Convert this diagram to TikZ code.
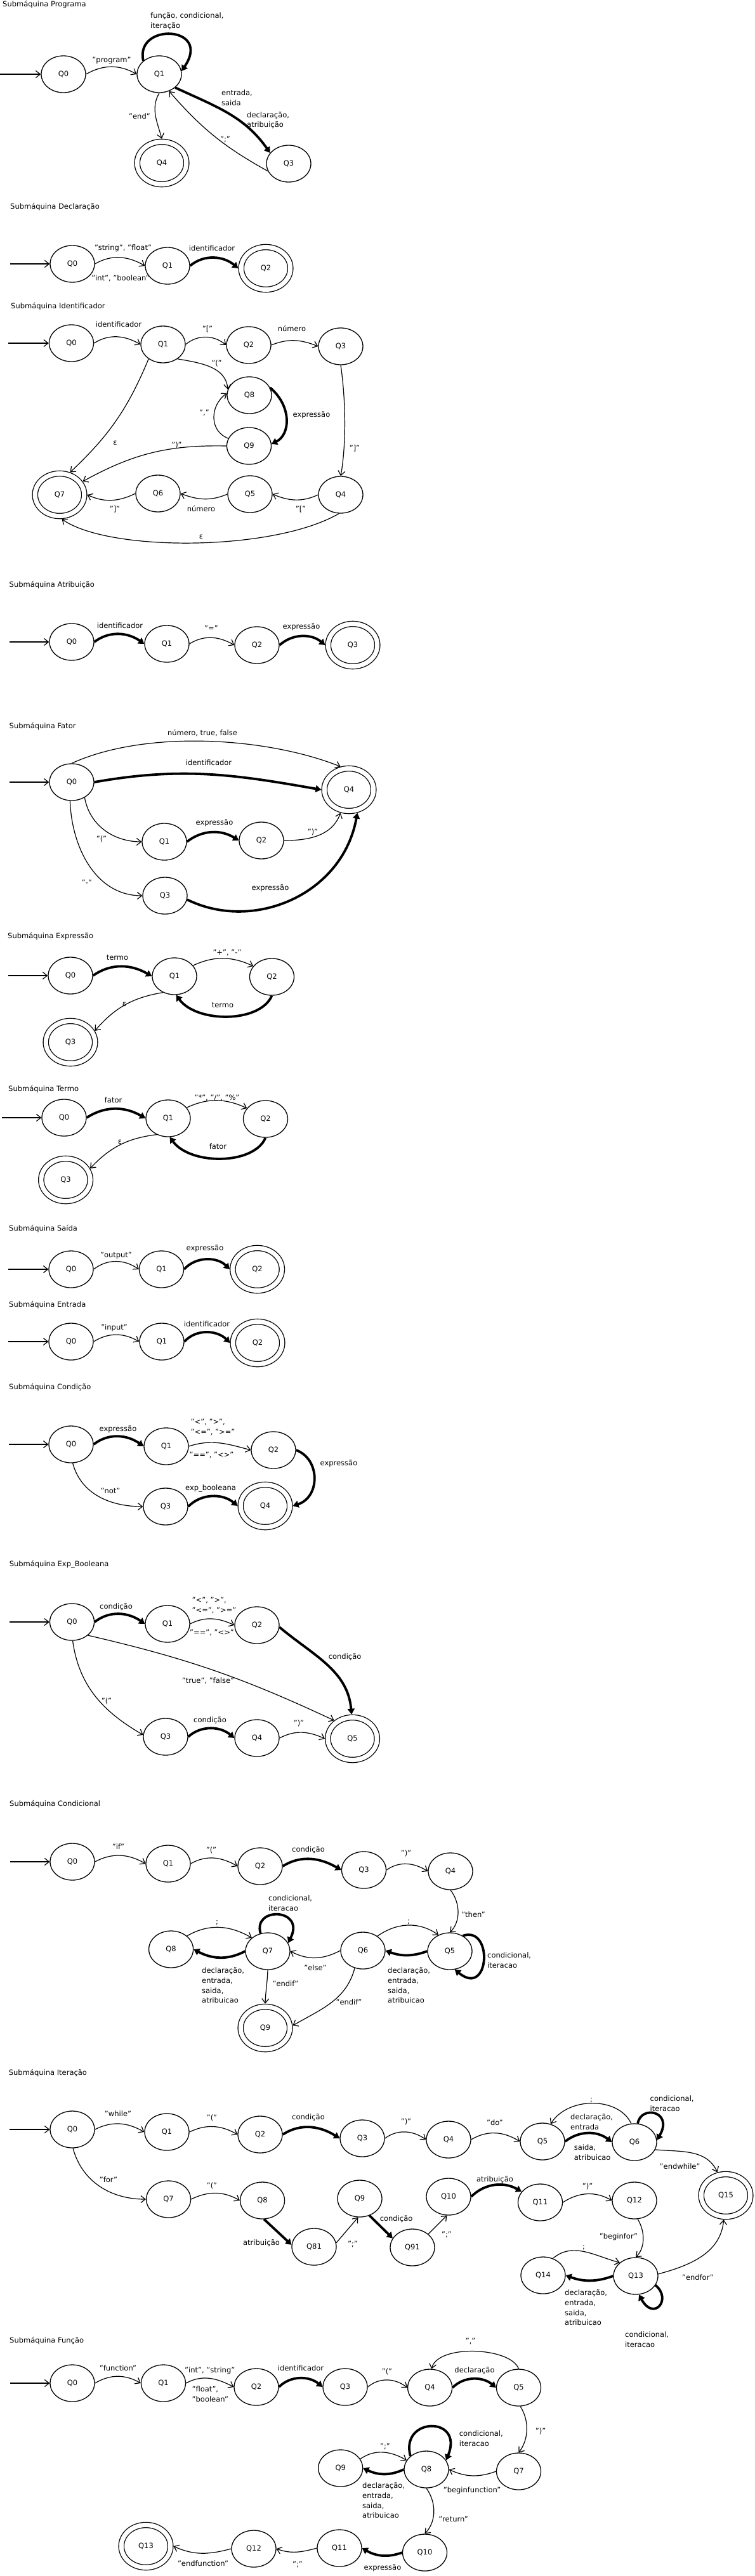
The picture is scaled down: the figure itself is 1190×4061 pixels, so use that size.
\documentclass[tikz,border=0pt]{standalone}
\usepackage{fontspec}
\setmainfont{DejaVu Sans}
\usetikzlibrary{arrows.meta,shapes.geometric}
\newcommand\myfs{\fontsize{11.5}{15.7}\selectfont}
\begin{document}
\begin{tikzpicture}[x=1pt,y=1pt,font=\myfs,
 st/.style={draw, ellipse, line width=1.3pt, minimum width=70pt, minimum height=58pt, inner sep=0pt},
 acc/.style={draw, ellipse, double, double distance=7pt, line width=1.3pt, minimum width=77.5pt, minimum height=67pt, inner sep=0pt, outer sep=4.8pt},
 tr/.style={line width=1.2pt, -{Straight Barb[length=7pt,width=11pt]}},
 tk/.style={line width=3.8pt, -{Triangle[length=9pt,width=11pt]}},
 lb/.style={inner sep=0pt, text height=8.5pt, text depth=2.5pt},
 ml/.style={inner sep=0pt, align=left, anchor=west},
 ttl/.style={inner sep=0pt, anchor=west, text height=8.5pt, text depth=2.5pt}]
\path[use as bounding box, fill=white] (0,0) rectangle (1190,-4061);

% ---------------- Programa
\node[ttl] (t1) at (4,-7) {Submáquina Programa};
\node[st] (p0) at (100,-117) {Q0};
\node[st] (p1) at (251,-117) {Q1};
\node[acc] (p4) at (255,-257) {Q4};
\node[st] (p3) at (455,-258) {Q3};
\coordinate (pin0) at (0,-117);
\draw[tr] (pin0) -- (p0);
\draw[tr] (p0.east) to[out=30,in=150] (p1.west);
\node[lb] (pl1) at (176,-95) {"program"};
\draw[tk] (p1.140) .. controls (212,-35) and (335,-40) .. (p1.8);
\node[ml] (pl2) at (237,-33) {função, condicional,\\iteração};
\draw[tr] (p1.south) to[out=240,in=105] (p4.north);
\node[lb] (pl3) at (220,-184) {"end"};
\draw[tk] (p1.-40) to[out=-25,in=125] (p3.150);
\node[ml] (pl4) at (349,-154.5) {entrada,\\saida};
\node[ml] (pl5) at (389,-189.5) {declaração,\\atribuição};
\draw[tr] (p3.200) to[bend left=10] (p1.-60);
\node[lb] (pl6) at (355,-220) {";"};

% ---------------- Declaracao
\node[ttl] (t2) at (16,-326) {Submáquina Declaração};
\node[st] (d0) at (114,-416) {Q0};
\node[st] (d1) at (264,-419) {Q1};
\node[acc] (d2) at (419,-423) {Q2};
\coordinate (din0) at (16,-416);
\draw[tr] (din0) -- (d0);
\draw[tr] (d0.east) to[out=30,in=150] (d1.west);
\node[lb] (dl1) at (194,-391) {"string", "float"};
\node[lb] (dl2) at (190,-439) {"int", "boolean"};
\draw[tk] (d1.east) to[out=40,in=140] (d2.west);
\node[lb] (dl3) at (334,-392) {identificador};

% ---------------- Identificador
\node[ttl] (t3) at (17,-483) {Submáquina Identificador};
\node[st] (i0) at (112.5,-541) {Q0};
\node[st] (i1) at (257,-543) {Q1};
\node[st] (i2) at (392,-544) {Q2};
\node[st] (i3) at (537,-546) {Q3};
\node[st] (i8) at (393,-623) {Q8};
\node[st] (i9) at (392.5,-703) {Q9};
\node[acc] (i7) at (94,-780) {Q7};
\node[st] (i6) at (249,-778) {Q6};
\node[st] (i5) at (394,-779) {Q5};
\node[st] (i4) at (537,-780) {Q4};
\coordinate (iin0) at (13,-541);
\draw[tr] (iin0) -- (i0);
\draw[tr] (i0.east) to[out=32,in=150] (i1.west);
\node[lb] (il1) at (187,-512) {identificador};
\draw[tr] (i1.east) to[out=40,in=140] (i2.west);
\node[lb] (il2) at (327,-519) {"["};
\draw[tr] (i2.east) to[out=22,in=158] (i3.west);
\node[lb] (il3) at (460,-519) {número};
\draw[tr] (i1.-45) to[out=-10,in=95] (i8.165);
\node[lb] (il4) at (341.5,-573) {"("};
\draw[tk] (i8.20) .. controls (460,-640) and (458,-685) .. (i9.5);
\node[lb] (il5) at (491,-654) {expressão};
\draw[tr] (i9.160) .. controls (330,-680) and (330,-640) .. (i8.175);
\node[lb] (il6) at (322,-651) {","};
\draw[tr] (i1.225) to[bend left=12] (i7.65);
\node[lb] (il7) at (181.5,-698) {ε};
\draw[tr] (i9.west) to[bend right=15] (i7.30);
\node[lb] (il8) at (278.5,-702) {")"};
\draw[tr] (i3.south) .. controls (545,-630) and (546,-700) .. (i4.north);
\node[lb] (il9) at (559,-707) {"]"};
\draw[tr] (i4.west) to[out=205,in=-23] (i5.east);
\node[lb] (il10) at (474,-803) {"["};
\draw[tr] (i5.west) to[out=203,in=-21] (i6.east);
\node[lb] (il11) at (317,-803) {número};
\draw[tr] (i6.west) to[out=206,in=-25] (i7.east);
\node[lb] (il12) at (181,-803) {"]"};
\draw[tr] (i4.265) .. controls (430,-870) and (170,-870) .. (i7.-85);
\node[lb] (il13) at (317,-846) {ε};

% ---------------- Atribuicao
\node[ttl] (t4) at (14.5,-922) {Submáquina Atribuição};
\node[st] (a0) at (113,-1012) {Q0};
\node[st] (a1) at (263,-1015) {Q1};
\node[st] (a2) at (405,-1017) {Q2};
\node[acc] (a3) at (556,-1017) {Q3};
\coordinate (ain0) at (14.5,-1012);
\draw[tr] (ain0) -- (a0);
\draw[tk] (a0.east) to[out=37,in=145] (a1.west);
\node[lb] (al1) at (189,-987) {identificador};
\draw[tr] (a1.east) to[out=32,in=150] (a2.west);
\node[lb] (al2) at (333,-991) {"="};
\draw[tk] (a2.east) to[out=42,in=140] (a3.west);
\node[lb] (al3) at (475,-988) {expressão};

% ---------------- Fator
\node[ttl] (t5) at (14.5,-1145) {Submáquina Fator};
\node[st] (f0) at (113,-1233) {Q0};
\node[acc] (f4) at (550,-1245) {Q4};
\node[st] (f1) at (259,-1327) {Q1};
\node[st] (f2) at (412,-1325) {Q2};
\node[st] (f3) at (260,-1412) {Q3};
\coordinate (fin0) at (14.5,-1233);
\draw[tr] (fin0) -- (f0);
\draw[tr] (f0.north) .. controls (230,-1150) and (420,-1162) .. (f4.110);
\node[lb] (fl1) at (319,-1156) {número, true, false};
\draw[tk] (f0.east) to[out=10,in=170] (f4.west);
\node[lb] (fl2) at (329,-1203) {identificador};
\draw[tr] (f0.-50) to[out=-80,in=180] (f1.west);
\node[lb] (fl3) at (160,-1323) {"("};
\draw[tk] (f1.east) to[out=38,in=148] (f2.west);
\node[lb] (fl4) at (338,-1297) {expressão};
\draw[tr] (f2.east) to[out=0,in=250] (f4.250);
\node[lb] (fl5) at (493,-1312) {")"};
\draw[tr] (f0.265) to[out=-88,in=180] (f3.west);
\node[lb] (fl6) at (137,-1392) {"-"};
\draw[tk] (f3.-10) .. controls (400,-1470) and (540,-1410) .. (f4.-70);
\node[lb] (fl7) at (426,-1400) {expressão};

% ---------------- Expressao
\node[ttl] (t6) at (12,-1476) {Submáquina Expressão};
\node[st] (e0) at (111,-1538) {Q0};
\node[st] (e1) at (275,-1539) {Q1};
\node[st] (e2) at (428.5,-1540) {Q2};
\node[acc] (e3) at (111,-1643) {Q3};
\coordinate (ein0) at (12.5,-1538);
\draw[tr] (ein0) -- (e0);
\draw[tk] (e0.east) to[out=35,in=150] (e1.west);
\node[lb] (el1) at (185,-1510) {termo};
\draw[tr] (e1.30) to[out=25,in=155] (e2.150);
\node[lb] (el2) at (358,-1502) {"+", "-"};
\draw[tk] (e2.south) .. controls (410,-1613) and (310,-1613) .. (e1.-85);
\node[lb] (el3) at (351,-1585) {termo};
\draw[tr] (e1.235) to[bend right=20] (e3.25);
\node[lb] (el4) at (196,-1583) {ε};

% ---------------- Termo
\node[ttl] (t7) at (13,-1717) {Submáquina Termo};
\node[st] (m0) at (101,-1762) {Q0};
\node[st] (m1) at (265,-1763) {Q1};
\node[st] (m2) at (418.5,-1764) {Q2};
\node[acc] (m3) at (103.6,-1860) {Q3};
\coordinate (mIn0) at (3,-1762);
\draw[tr] (mIn0) -- (m0);
\draw[tk] (m0.east) to[out=33,in=150] (m1.west);
\node[lb] (mq1) at (178.6,-1735) {fator};
\draw[tr] (m1.30) to[out=25,in=155] (m2.150);
\node[lb] (mq2) at (342,-1731) {"*", "/", "\%"};
\draw[tk] (m2.south) .. controls (400,-1837) and (300,-1837) .. (m1.-85);
\node[lb] (mq3) at (343.5,-1808) {fator};
\draw[tr] (m1.235) to[bend right=20] (m3.25);
\node[lb] (mq4) at (189,-1800) {ε};

% ---------------- Saida
\node[ttl] (t8) at (14,-1937) {Submáquina Saída};
\node[st] (s0) at (112,-2001) {Q0};
\node[st] (s1) at (254.5,-2001) {Q1};
\node[acc] (s2) at (405.6,-2001) {Q2};
\coordinate (sin0) at (13.4,-2001);
\draw[tr] (sin0) -- (s0);
\draw[tr] (s0.east) to[out=38,in=145] (s1.west);
\node[lb] (sl1) at (183,-1979) {"output"};
\draw[tk] (s1.east) to[out=48,in=135] (s2.west);
\node[lb] (sl2) at (323,-1968) {expressão};

% ---------------- Entrada
\node[ttl] (t9) at (14,-2057) {Submáquina Entrada};
\node[st] (n0) at (112,-2115) {Q0};
\node[st] (n1) at (255,-2115) {Q1};
\node[acc] (n2) at (406,-2117) {Q2};
\coordinate (nin0) at (13.4,-2115);
\draw[tr] (nin0) -- (n0);
\draw[tr] (n0.east) to[out=32,in=150] (n1.west);
\node[lb] (nl1) at (180,-2093) {"input"};
\draw[tk] (n1.east) to[out=48,in=135] (n2.west);
\node[lb] (nl2) at (326,-2088) {identificador};

% ---------------- Condicao
\node[ttl] (t10) at (14,-2187) {Submáquina Condição};
\node[st] (c0) at (112,-2277) {Q0};
\node[st] (c1) at (262,-2280) {Q1};
\node[st] (c2) at (431,-2286) {Q2};
\node[st] (c3) at (261,-2375) {Q3};
\node[acc] (c4) at (418,-2374) {Q4};
\coordinate (cin0) at (14,-2277);
\draw[tr] (cin0) -- (c0);
\draw[tk] (c0.east) to[out=38,in=145] (c1.west);
\node[lb] (cl1) at (186,-2253) {expressão};
\draw[tr] (c1.east) to[out=18,in=165] (c2.west);
\node[ml] (cl2) at (300.5,-2250) {"<", ">",\\"<=", ">="};
\node[ml] (cl3) at (298.5,-2294) {"==", "<>"};
\draw[tk] (c2.east) .. controls (505,-2300) and (505,-2360) .. (c4.east);
\node[lb] (cl4) at (534,-2307) {expressão};
\draw[tr] (c0.-85) to[out=-75,in=180] (c3.west);
\node[lb] (cl5) at (174,-2351) {"not"};
\draw[tk] (c3.east) to[out=45,in=140] (c4.west);
\node[lb] (cl6) at (332,-2346) {exp\_booleana};

% ---------------- Exp_Booleana
\node[ttl] (t11) at (14.6,-2466) {Submáquina Exp\_Booleana};
\node[st] (b0) at (113.5,-2557) {Q0};
\node[st] (b1) at (264,-2560) {Q1};
\node[st] (b2) at (405,-2562) {Q2};
\node[st] (b3) at (261,-2738) {Q3};
\node[st] (b4) at (405,-2740) {Q4};
\node[acc] (b5) at (555.5,-2741) {Q5};
\coordinate (bin0) at (15,-2557);
\draw[tr] (bin0) -- (b0);
\draw[tk] (b0.east) to[out=38,in=145] (b1.west);
\node[lb] (bl1) at (183,-2533) {condição};
\draw[tr] (b1.east) to[out=27,in=155] (b2.west);
\node[ml] (bl2) at (302.5,-2531) {"<", ">",\\"<=", ">="};
\node[ml] (bl3) at (299,-2574) {"==", "<>"};
\draw[tk] (b2.-5) to[out=-40,in=95] (b5.92);
\node[lb] (bl4) at (543.6,-2612) {condição};
\draw[tr] (b0.-40) to[bend left=6] (b5.135);
\node[lb] (bl5) at (328,-2650) {"true", "false"};
\draw[tr] (b0.-88) to[out=-82,in=150] (b3.175);
\node[lb] (bl6) at (168,-2682) {"("};
\draw[tk] (b3.east) to[out=42,in=140] (b4.west);
\node[lb] (bl7) at (331,-2712) {condição};
\draw[tr] (b4.east) to[out=28,in=155] (b5.west);
\node[lb] (bl8) at (471,-2717) {")"};

% ---------------- Condicional
\node[ttl] (t12) at (15,-2844) {Submáquina Condicional};
\node[st] (k0) at (114,-2935) {Q0};
\node[st] (k1) at (265,-2938) {Q1};
\node[st] (k2) at (410,-2942) {Q2};
\node[st] (k3) at (573.5,-2948) {Q3};
\node[st] (k4) at (710,-2950) {Q4};
\node[st] (k5) at (709,-3076) {Q5};
\node[st] (k6) at (572,-3075) {Q6};
\node[st] (k7) at (422,-3076) {Q7};
\node[st] (k8) at (269.6,-3073) {Q8};
\node[acc] (k9) at (418,-3197) {Q9};
\coordinate (kin0) at (16,-2935);
\draw[tr] (kin0) -- (k0);
\draw[tr] (k0.east) to[out=28,in=150] (k1.west);
\node[lb] (kl1) at (186.5,-2912) {"if"};
\draw[tr] (k1.east) to[out=30,in=150] (k2.west);
\node[lb] (kl2) at (333,-2917) {"("};
\draw[tk] (k2.east) to[out=32,in=150] (k3.west);
\node[lb] (kl3) at (486,-2916) {condição};
\draw[tr] (k3.east) to[out=35,in=148] (k4.west);
\node[lb] (kl4) at (640,-2922) {")"};
\draw[tr] (k4.south) .. controls (726,-3000) and (726,-3030) .. (k5.north);
\node[lb] (kl5) at (746,-3019) {"then"};
\draw[tk] (k5.50) .. controls (778,-3035) and (772,-3150) .. (k5.-75);
\node[ml] (kl6) at (768,-3090) {condicional,\\iteracao};
\draw[tr] (k6.45) to[out=35,in=145] (k5.125);
\node[lb] (kl7) at (644,-3029) {;};
\draw[tk] (k5.west) to[out=200,in=-20] (k6.east);
\node[ml] (kl8) at (611,-3130) {declaração,\\entrada,\\saida,\\atribuicao};
\draw[tr] (k6.west) to[out=208,in=-28] (k7.east);
\node[lb] (kl9) at (497,-3103) {"else"};
\draw[tr] (k6.-115) to[out=-105,in=30] (k9.5);
\node[lb] (kl10) at (550,-3157) {"endif"};
\draw[tr] (k7.south) to[out=-92,in=88] (k9.north);
\node[lb] (kl11) at (450,-3128) {"endif"};
\draw[tk] (k7.112) .. controls (398,-3005) and (482,-3008) .. (k7.22);
\node[ml] (kl12) at (423,-3000) {condicional,\\iteracao};
\draw[tr] (k8.40) to[out=30,in=150] (k7.140);
\node[lb] (kl13) at (342,-3030) {;};
\draw[tk] (k7.west) to[out=208,in=-28] (k8.east);
\node[ml] (kl14) at (318,-3130) {declaração,\\entrada,\\saida,\\atribuicao};

% ---------------- Iteracao
\node[ttl] (t13) at (13.7,-3268) {Submáquina Iteração};
\node[st] (r0) at (114,-3357) {Q0};
\node[st] (r1) at (263,-3361) {Q1};
\node[st] (r2) at (410,-3365) {Q2};
\node[st] (r3) at (571,-3371) {Q3};
\node[st] (r4) at (707,-3373) {Q4};
\node[st] (r5) at (855,-3376) {Q5};
\node[st] (r6) at (1000,-3377) {Q6};
\node[acc] (r15) at (1144,-3461) {Q15};
\node[st] (r7) at (265.6,-3467) {Q7};
\node[st] (r8) at (413.6,-3469) {Q8};
\node[st] (r9) at (567,-3466) {Q9};
\node[st] (r81) at (495,-3542) {Q81};
\node[st] (r91) at (650,-3543) {Q91};
\node[st] (r10) at (707,-3463) {Q10};
\node[st] (r11) at (851.5,-3472) {Q11};
\node[st] (r12) at (1000,-3469) {Q12};
\node[st] (r13) at (1002,-3588) {Q13};
\node[st] (r14) at (856,-3587) {Q14};
\coordinate (rin0) at (15,-3357);
\draw[tr] (rin0) -- (r0);
\draw[tr] (r0.east) to[out=27,in=150] (r1.west);
\node[lb] (rl1) at (186,-3333) {"while"};
\draw[tr] (r1.east) to[out=26,in=150] (r2.west);
\node[lb] (rl2) at (334,-3339) {"("};
\draw[tk] (r2.east) to[out=33,in=148] (r3.west);
\node[lb] (rl3) at (486,-3338) {condição};
\draw[tr] (r3.east) to[out=36,in=145] (r4.west);
\node[lb] (rl4) at (640,-3345) {")"};
\draw[tr] (r4.east) to[out=31,in=148] (r5.west);
\node[lb] (rl5) at (780,-3347) {"do"};
\draw[tk] (r5.east) to[out=38,in=142] (r6.west);
\node[ml] (rl6) at (899,-3345) {declaração,\\entrada};
\node[ml] (rl7) at (904.6,-3393.5) {saida,\\atribuicao};
\draw[tr] (r6.100) .. controls (975,-3305) and (895,-3305) .. (r5.65);
\node[lb] (rl8) at (932,-3310) {;};
\draw[tk] (r6.80) .. controls (1010,-3318) and (1062,-3328) .. (r6.5);
\node[ml] (rl9) at (1024.5,-3316) {condicional,\\iteracao};
\draw[tr] (r6.-20) to[out=-5,in=115] (r15.110);
\node[lb] (rl10) at (1071.6,-3416) {"endwhile"};
\draw[tr] (r0.-88) to[out=-75,in=180] (r7.west);
\node[lb] (rl11) at (171,-3437) {"for"};
\draw[tr] (r7.east) to[out=26,in=150] (r8.west);
\node[lb] (rl12) at (334,-3446) {"("};
\draw[tk] (r8.-85) -- (r81.175);
\node[lb] (rl13) at (412,-3536) {atribuição};
\draw[tr] (r81.10) -- (r9.-95);
\node[lb] (rl14) at (556,-3538) {";"};
\draw[tk] (r9.-60) -- (r91.155);
\node[lb] (rl15) at (624.6,-3498) {condição};
\draw[tr] (r91.40) -- (r10.-95);
\node[lb] (rl16) at (704,-3523) {";"};
\draw[tk] (r10.east) to[out=45,in=150] (r11.150);
\node[lb] (rl17) at (780,-3436) {atribuição};
\draw[tr] (r11.east) to[out=33,in=150] (r12.west);
\node[lb] (rl18) at (926,-3447) {")"};
\draw[tr] (r12.-80) .. controls (1018,-3520) and (1016,-3545) .. (r13.north);
\node[lb] (rl19) at (975,-3526) {"beginfor"};
\draw[tr] (r14.60) to[out=40,in=165] (r13.140);
\node[lb] (rl20) at (920,-3542) {;};
\draw[tk] (r13.west) to[out=200,in=-20] (r14.east);
\node[ml] (rl21) at (890,-3638) {declaração,\\entrada,\\saida,\\atribuicao};
\draw[tr] (r13.5) to[out=15,in=-95] (r15.-95);
\node[lb] (rl22) at (1100,-3591) {"endfor"};
\draw[tk] (r13.-25) .. controls (1060,-3625) and (1030,-3660) .. (r13.-80);
\node[ml] (rl23) at (985,-3688) {condicional,\\iteracao};

% ---------------- Funcao
\node[ttl] (t14) at (15,-3690) {Submáquina Função};
\node[st] (u0) at (114,-3757) {Q0};
\node[st] (u1) at (257.5,-3757) {Q1};
\node[st] (u2) at (404,-3763) {Q2};
\node[st] (u3) at (544,-3763) {Q3};
\node[st] (u4) at (677.6,-3764) {Q4};
\node[st] (u5) at (817.5,-3764) {Q5};
\node[st] (u7) at (817.5,-3896) {Q7};
\node[st] (u8) at (672,-3893) {Q8};
\node[st] (u9) at (536.7,-3891) {Q9};
\node[st] (u10) at (669.5,-4024) {Q10};
\node[st] (u11) at (535,-4017) {Q11};
\node[st] (u12) at (400,-4018) {Q12};
\node[acc] (u13) at (230,-4014) {Q13};
\coordinate (uin0) at (16,-3757);
\draw[tr] (uin0) -- (u0);
\draw[tr] (u0.east) to[out=31,in=150] (u1.west);
\node[lb] (ul1) at (186,-3734) {"function"};
\draw[tr] (u1.east) to[out=29,in=152] (u2.west);
\node[lb] (ul2) at (330.7,-3737) {"int", "string"};
\node[ml] (ul3) at (302.5,-3774) {"float",\\"boolean"};
\draw[tk] (u2.east) to[out=45,in=140] (u3.west);
\node[lb] (ul4) at (474,-3734) {identificador};
\draw[tr] (u3.east) to[out=40,in=142] (u4.west);
\node[lb] (ul5) at (610,-3739) {"("};
\draw[tk] (u4.east) to[out=45,in=140] (u5.west);
\node[lb] (ul6) at (748,-3737) {declaração};
\draw[tr] (u5.90) .. controls (805,-3700) and (690,-3695) .. (u4.85);
\node[lb] (ul7) at (741.6,-3691) {","};
\draw[tr] (u5.-85) .. controls (834,-3815) and (834,-3845) .. (u7.north);
\node[lb] (ul8) at (852,-3833) {")"};
\draw[tr] (u7.west) to[out=200,in=-25] (u8.east);
\node[lb] (ul9) at (744,-3926) {"beginfunction"};
\draw[tk] (u8.140) .. controls (630,-3810) and (732,-3808) .. (u8.25);
\node[ml] (ul10) at (723.7,-3844) {condicional,\\iteracao};
\draw[tr] (u9.25) to[out=35,in=150] (u8.155);
\node[lb] (ul11) at (607,-3857) {";"};
\draw[tk] (u8.west) to[out=205,in=-25] (u9.east);
\node[ml] (ul12) at (571,-3942) {declaração,\\entrada,\\saida,\\atribuicao};
\draw[tr] (u8.south) .. controls (688,-3945) and (688,-3975) .. (u10.north);
\node[lb] (ul13) at (714.5,-3972) {"return"};
\draw[tk] (u10.west) to[out=200,in=-30] (u11.east);
\node[lb] (ul14) at (603,-4048) {expressão};
\draw[tr] (u11.west) to[out=195,in=-20] (u12.east);
\node[lb] (ul15) at (469,-4043) {";"};
\draw[tr] (u12.west) to[out=195,in=-25] (u13.east);
\node[lb] (ul16) at (320,-4042) {"endfunction"};
\end{tikzpicture}
\end{document}
